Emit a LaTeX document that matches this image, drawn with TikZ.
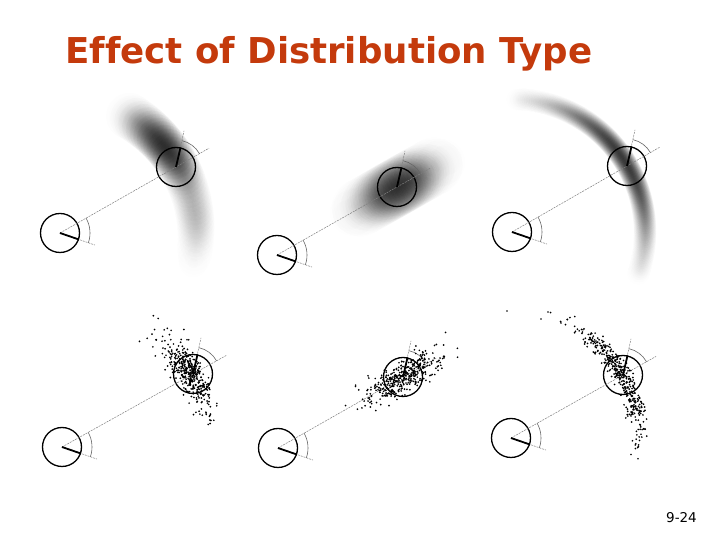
\documentclass[tikz,border=0pt]{standalone}
\usepackage{fontspec}
\setsansfont[Ligatures=NoCommon]{DejaVu Sans}
\usetikzlibrary{calc, fadings}
\definecolor{titlerust}{RGB}{196,58,12}
\pgfdeclareradialshading{blobshade}{\pgfpointorigin}{color(0bp)=(white); color(8bp)=(white!72!black); color(16bp)=(white!38!black); color(24bp)=(white!12!black); color(32bp)=(black); color(50bp)=(black)}
\pgfdeclarefading{blobfade}{\pgfuseshading{blobshade}}
\tikzstyle{robot} = [circle, 
			draw, 
			line width=1.3pt, 
			minimum size=39pt, 
			inner sep=0pt]
\tikzstyle{heading} = [line width=1.8pt]
\tikzstyle{guide} = [gray, line width=0.5pt, dash pattern=on 2pt off 1pt]
\tikzstyle{bearing} = [gray!80!black, line width=0.6pt]
\tikzstyle{blob} = [fill=black, path fading=blobfade]
\tikzstyle{sample} = [fill=black]

\begin{document}
\begin{tikzpicture}[x=1pt, y=1pt]
	\fill[white] (0,0) rectangle (720,540);
	\useasboundingbox (0,0) rectangle (720,540);
	\node [anchor=base west, inner sep=0pt, text=titlerust, font=\fontsize{35.6}{40}\selectfont\bfseries\sffamily] (title) at (65,476) {Effect of Distribution Type};
	\node [anchor=base east, inner sep=0pt, font=\fontsize{13.5}{15}\selectfont\sffamily] (pageno) at (697,17) {9-24};
	% robot pairs
	\foreach \n/\sx/\sy/\bx/\by in {1/60/307/176/373, 2/277/285/397/353, 3/512/308/627/374, 4/62/93/193/166, 5/278/92/403/163, 6/511/102/623/165}{
		\coordinate (s\n) at (\sx,\sy);
		\coordinate (b\n) at (\bx,\by);
	}
	% gaussian densities
	\foreach \d in {-42,-40,...,30}{
		\pgfmathsetmacro\op{0.32*exp(-((\d-10)/15)^2)+0.07*exp(-((\d+22)/13)^2)}
		\pgfmathsetmacro\rr{21+0.08*\d}
		\fill[blob, opacity=\op] ($(s1)+(29.4+\d:136pt)$) circle (\rr pt);
	}
	\foreach \t in {-66,-63,...,66}{
		\pgfmathsetmacro\op{0.17*exp(-(\t/28)^2)}
		\fill[blob, opacity=\op] ($(b2)+(29.5:\t pt)$) circle (29pt);
	}
	\foreach \d in {-48,...,58}{
		\pgfmathsetmacro\op{0.25*exp(-((\d-4)/32)^2)}
		\fill[blob, opacity=\op] ($(s3)+(29.9+\d:133pt)$) circle (11.5pt);
	}
	\foreach \n/\sx/\sy/\bx/\by in {1/60/307/176/373, 2/277/285/397/353, 3/512/308/627/374, 4/62/93/193/166, 5/278/92/403/163, 6/511/102/623/165}{
		\node [robot] (rs\n) at (s\n) {};
		\node [robot] (rb\n) at (b\n) {};
		\pgfmathsetmacro\brg{atan2(\by-\sy,\bx-\sx)}
		\draw [guide] (rs\n.center) -- ($(rb\n.center)!-38pt!(rs\n.center)$);
		\draw [guide] (rs\n.center) -- ++(-19:37pt);
		\draw [heading] (rs\n.center) -- (rs\n.-19);
		\draw [bearing] ($(rs\n.center)+(\brg:30pt)$) arc[start angle=\brg, end angle=-19, radius=30pt];
		\draw [guide] (rb\n.center) -- ++(77.5:37pt);
		\draw [heading] (rb\n.center) -- (rb\n.77.5);
		\draw [bearing] ($(rb\n.center)+(\brg:27pt)$) arc[start angle=\brg, end angle=77.5, radius=27pt];
	}
	% sampled densities
	\pgfmathsetseed{7}
	\foreach \k in {1,...,420}{
		\pgfmathsetmacro\sg{(rnd<0.5)*5+5}
		\pgfmathsetmacro\dth{\sg*(rand+rand+rand)+1}
		\pgfmathsetmacro\rad{148+(6+0.2*max(\dth,0))*(rand+rand+rand)}
		\fill[sample] ($(rs4.center)+(29.1+\dth:\rad pt)$) circle (0.95pt);
	}
	\foreach \k in {1,...,420}{
		\pgfmathsetmacro\sg{(rnd<0.6)*8+16}
		\pgfmathsetmacro\tt{\sg*(rand+rand+rand)}
		\pgfmathsetmacro\nn{(6+0.08*abs(\tt))*(rand+rand+rand)}
		\fill[sample] ($(rb5.center)+(29.6:\tt pt)+(119.6:\nn pt)$) circle (0.95pt);
	}
	\foreach \k in {1,...,420}{
		\pgfmathsetmacro\dth{16*(rand+rand+rand)}
		\pgfmathsetmacro\rad{128+4.5*(rand+rand+rand)}
		\fill[sample] ($(rs6.center)+(29.4+\dth:\rad pt)$) circle (0.95pt);
	}
	\foreach \px/\py in {507/229, 548/228, 541/221}{
		\fill[sample] (\px,\py) circle (0.95pt);
	}
\end{tikzpicture}
\end{document}
